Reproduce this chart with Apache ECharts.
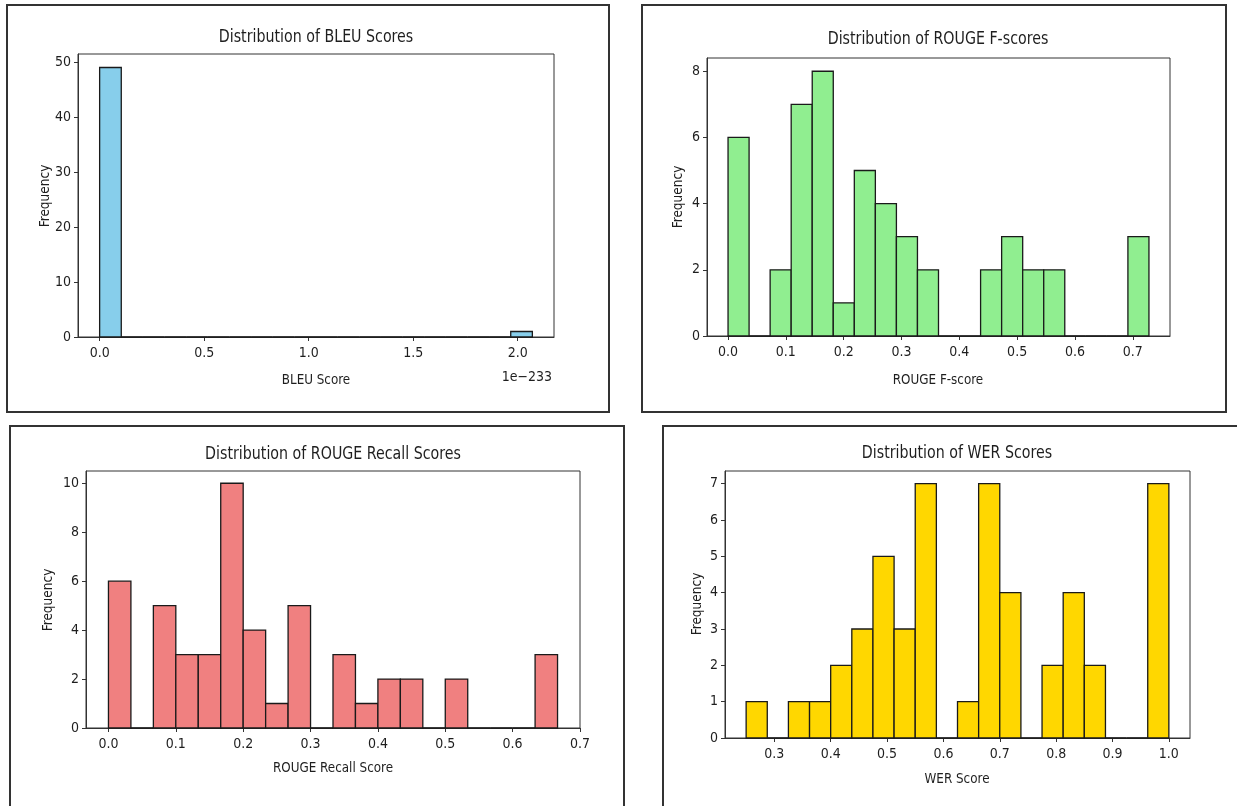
<!DOCTYPE html>
<html>
<head>
<meta charset="utf-8">
<script src="https://cdn.jsdelivr.net/npm/echarts@6/dist/echarts.min.js"></script>
<style>
html,body{margin:0;padding:0;background:#fff;}
#c{width:1237px;height:806px;}
</style>
</head>
<body>
<div id="c"></div>
<script>
// ---------- data (20 bins per histogram) ----------
const bleuCounts   = [49,0,0,0,0,0,0,0,0,0,0,0,0,0,0,0,0,0,0,1];
const bleuRange    = [0, 2.07];          // in units of 1e-233
const fscoreCounts = [6,0,2,7,8,1,5,4,3,2,0,0,2,3,2,2,0,0,0,3];
const fscoreRange  = [0, 0.728];
const recallCounts = [6,0,5,3,3,10,4,1,5,0,3,1,2,2,0,2,0,0,0,3];
const recallRange  = [0, 0.6667];
const werCounts    = [1,0,1,1,2,3,5,3,7,0,1,7,4,0,2,4,2,0,0,7];
const werRange     = [0.25, 1.0];

const bleuXTicks   = [0, 0.5, 1.0, 1.5, 2.0];
const bleuYTicks   = [0, 10, 20, 30, 40, 50];
const fscoreXTicks = [0, 0.1, 0.2, 0.3, 0.4, 0.5, 0.6, 0.7];
const fscoreYTicks = [0, 2, 4, 6, 8];
const recallXTicks = [0, 0.1, 0.2, 0.3, 0.4, 0.5, 0.6, 0.7];
const recallYTicks = [0, 2, 4, 6, 8, 10];
const werXTicks    = [0.3, 0.4, 0.5, 0.6, 0.7, 0.8, 0.9, 1.0];
const werYTicks    = [0, 1, 2, 3, 4, 5, 6, 7];

const titles  = ['Distribution of BLEU Scores','Distribution of ROUGE F-scores','Distribution of ROUGE Recall Scores','Distribution of WER Scores'];
const xNames  = ['BLEU Score','ROUGE F-score','ROUGE Recall Score','WER Score'];
const colors  = ['#87CEEB','#90EE90','#F08080','#FFD700'];

// ---------- layout ----------
const FONT = "'DejaVu Sans Condensed','Liberation Sans Narrow','DejaVu Sans',sans-serif";
const TXT = '#1e1e1e';
const panels = [
  {counts:bleuCounts,   range:bleuRange,   xt:bleuXTicks,   yt:bleuYTicks,
   grid:{left:78, top:54, width:476, height:283}, frame:[7,5,602,407],
   title:[316,37], xl:[316,380], yl:[45,196]},
  {counts:fscoreCounts, range:fscoreRange, xt:fscoreXTicks, yt:fscoreYTicks,
   grid:{left:707, top:58, width:463, height:278}, frame:[642,5,584,407],
   title:[938,39], xl:[938,380], yl:[678,197]},
  {counts:recallCounts, range:recallRange, xt:recallXTicks, yt:recallYTicks,
   grid:{left:86, top:471, width:494, height:257}, frame:[10,426,614,420],
   title:[333,454], xl:[333,768], yl:[48,600]},
  {counts:werCounts,    range:werRange,    xt:werXTicks,    yt:werYTicks,
   grid:{left:725, top:471, width:465, height:267}, frame:[663,426,620,420],
   title:[957,453], xl:[957,779], yl:[697,604]}
];

const grids = [], xAxes = [], yAxes = [], series = [], graphics = [];
panels.forEach((p, i) => {
  const n = p.counts.length;
  const w = (p.range[1] - p.range[0]) / n;
  const span = p.range[1] - p.range[0];
  const data = p.counts.map((c, k) => [p.range[0] + k * w, p.range[0] + (k + 1) * w, c]);
  grids.push(Object.assign({show:true, borderColor:'#333', borderWidth:1, backgroundColor:'transparent'}, p.grid));
  xAxes.push({
    type:'value', gridIndex:i,
    min:p.range[0] - span * 0.05, max:p.range[1] + span * 0.05,
    splitLine:{show:false},
    axisLine:{show:true, onZero:false, lineStyle:{color:'#333', width:1}},
    axisTick:{show:true, inside:false, length:4, lineStyle:{color:'#333'}, customValues:p.xt},
    axisLabel:{color:TXT, fontFamily:FONT, fontSize:14, margin:9, customValues:p.xt,
               formatter:v => Number(v).toFixed(1)}
  });
  yAxes.push({
    type:'value', gridIndex:i,
    min:0, max:Math.max.apply(null, p.counts) * 1.05,
    splitLine:{show:false},
    axisLine:{show:true, onZero:false, lineStyle:{color:'#333', width:1}},
    axisTick:{show:true, inside:false, length:4, lineStyle:{color:'#333'}, customValues:p.yt},
    axisLabel:{color:TXT, fontFamily:FONT, fontSize:14, margin:7, customValues:p.yt,
               formatter:v => String(Math.round(v))}
  });
  const col = colors[i];
  series.push({
    type:'custom', xAxisIndex:i, yAxisIndex:i, data:data,
    encode:{x:[0,1], y:2},
    renderItem:function(params, api){
      const a = api.coord([api.value(0), 0]);
      const b = api.coord([api.value(1), api.value(2)]);
      return {type:'rect',
        shape:{x:a[0], y:b[1], width:b[0]-a[0], height:a[1]-b[1]},
        style:{fill:col, stroke:'#1a1a1a', lineWidth:1.3}};
    }
  });
  graphics.push({type:'rect', silent:true, z:100,
    shape:{x:p.frame[0], y:p.frame[1], width:p.frame[2], height:p.frame[3]},
    style:{fill:null, stroke:'#333', lineWidth:2}});
  graphics.push({type:'text', x:p.title[0], y:p.title[1], scaleX:0.93, scaleY:1.05,
    style:{text:titles[i], fill:TXT, font:'17px ' + FONT, align:'center', verticalAlign:'middle'}});
  graphics.push({type:'text', x:p.xl[0], y:p.xl[1], scaleX:0.95, scaleY:1.05,
    style:{text:xNames[i], fill:TXT, font:'14px ' + FONT, align:'center', verticalAlign:'middle'}});
  graphics.push({type:'text', x:p.yl[0], y:p.yl[1], rotation:Math.PI/2,
    style:{text:'Frequency', fill:TXT, font:'13.5px ' + FONT, align:'center', verticalAlign:'middle'}});
});
// scale offset text of the BLEU x axis
graphics.push({type:'text', x:552, y:377,
  style:{text:'1e\u2212233', fill:TXT, font:'14px ' + FONT, align:'right', verticalAlign:'middle'}});

const chart = echarts.init(document.getElementById('c'), null, {renderer:'canvas'});
chart.setOption({
  backgroundColor:'#ffffff',
  animation:false,
  grid:grids, xAxis:xAxes, yAxis:yAxes, series:series,
  graphic:{elements:graphics}
});
</script>
</body>
</html>
